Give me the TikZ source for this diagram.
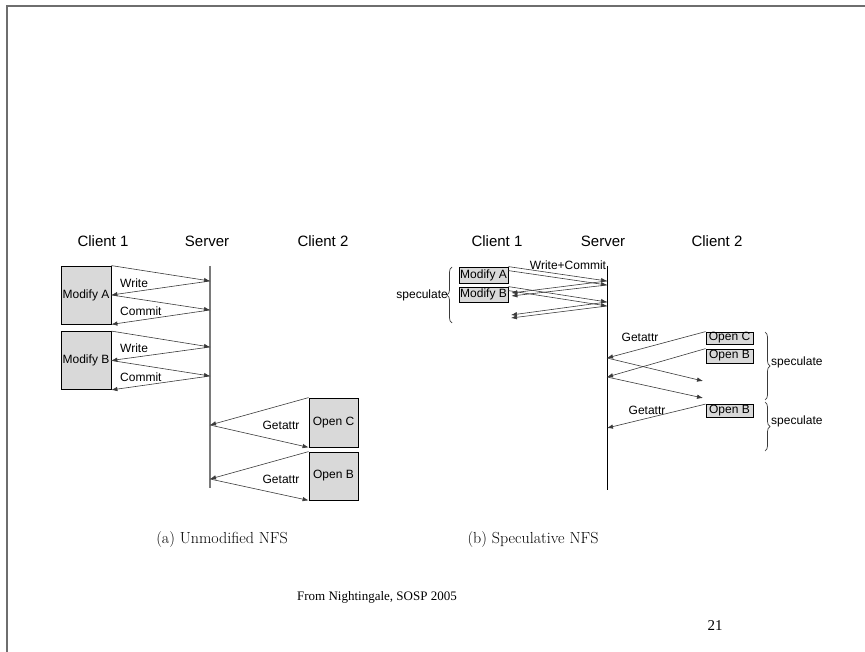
\documentclass[tikz,border=0pt]{standalone}
\usepackage{fontspec}
\usepackage{xcolor}
\usepackage{tikz}
\usetikzlibrary{arrows.meta,decorations.pathreplacing}
\newfontfamily\diagfont{Liberation Sans}
\newfontfamily\notefont{Liberation Serif}
\definecolor{boxgray}{HTML}{D9D9D9}
\definecolor{msggray}{HTML}{3A3A3A}
\definecolor{servergray}{HTML}{7A7A7A}
\definecolor{framegray}{HTML}{6E6E6E}
\tikzset{
  msg/.style={draw=msggray, -{Latex[length=6pt,width=4.5pt]}, line width=0.6pt},
  serverline/.style={draw=servergray, line width=2pt},
  serverthin/.style={draw=black, line width=1pt},
  hdr/.style={font=\diagfont\fontsize{15}{18}\selectfont},
  lbl/.style={font=\diagfont\fontsize{12}{14}\selectfont, inner sep=0pt},
  opbox/.style={draw=black, fill=boxgray, line width=0.8pt, inner sep=0pt,
    font=\diagfont\fontsize{12}{14}\selectfont},
  specbrace/.style={draw=msggray, line width=0.7pt, decorate,
    decoration={brace, amplitude=5pt}},
  subcap/.style={font=\fontsize{16}{19}\selectfont}
}
\begin{document}
\begin{tikzpicture}[x=1pt,y=-1pt]
  \path[use as bounding box] (0,0) rectangle (865,652);
  \draw[framegray, line width=2pt] (865,6.5) -- (7,6.5) -- (7,652);

  \node[hdr] (cl1a) at (103,241) {Client 1};
  \node[hdr] (srva) at (207,241) {Server};
  \node[hdr] (cl2a) at (323,241) {Client 2};
  \coordinate (sa-top) at (210,266);
  \coordinate (sa-bot) at (210,488);
  \draw[serverline] (sa-top) -- (sa-bot);

  \node[opbox, minimum width=50pt, minimum height=58pt] (moda) at (86,295) {Modify A};
  \node[opbox, minimum width=50pt, minimum height=58pt] (modb) at (86,360.5) {Modify B};
  \node[opbox, minimum width=49pt, minimum height=49pt] (openc) at (333.5,422.5) {Open C};
  \node[opbox, minimum width=49pt, minimum height=48pt] (openba) at (333.5,476) {Open B};

  \coordinate (sa1) at (210,281);
  \coordinate (sa2) at (210,310);
  \coordinate (sa3) at (210,347);
  \coordinate (sa4) at (210,376);
  \coordinate (sa5) at (210,425);
  \coordinate (sa6) at (210,479);

  \draw[msg] (moda.north east) -- (sa1);
  \draw[msg] (sa1) -- (moda.east);
  \draw[msg] (moda.east) -- (sa2);
  \draw[msg] (sa2) -- (moda.south east);
  \draw[msg] (modb.north east) -- (sa3);
  \draw[msg] (sa3) -- (modb.east);
  \draw[msg] (modb.east) -- (sa4);
  \draw[msg] (sa4) -- (modb.south east);
  \draw[msg] (openc.north west) -- (sa5);
  \draw[msg] (sa5) -- (openc.south west);
  \draw[msg] (openba.north west) -- (sa6);
  \draw[msg] (sa6) -- (openba.south west);

  \node[lbl, anchor=west] (wra) at (120,283) {Write};
  \node[lbl, anchor=west] (cma) at (120,311) {Commit};
  \node[lbl, anchor=west] (wrb) at (120,348) {Write};
  \node[lbl, anchor=west] (cmb) at (120,377) {Commit};
  \node[lbl] (gta) at (281,425) {Getattr};
  \node[lbl] (gtb) at (281,479) {Getattr};

  \node[hdr] (cl1b) at (497,241) {Client 1};
  \node[hdr] (srvb) at (603,241) {Server};
  \node[hdr] (cl2b) at (717,241) {Client 2};
  \coordinate (sb-top) at (607,266);
  \coordinate (sb-bot) at (607,490);
  \draw[serverthin] (sb-top) -- (sb-bot);

  \node[opbox, minimum width=49pt, minimum height=16pt] (modar) at (483.5,275) {Modify A};
  \node[opbox, minimum width=49pt, minimum height=15pt] (modbr) at (483.5,294.5) {Modify B};
  \node[opbox, minimum width=47pt, minimum height=12pt] (openc2) at (729.5,338) {Open C};
  \node[opbox, minimum width=47pt, minimum height=14pt] (openb2a) at (729.5,356) {Open B};
  \node[opbox, minimum width=47pt, minimum height=13pt] (openb2b) at (729.5,411) {Open B};
  \node[lbl] (wc) at (568,265) {Write+Commit};

  \coordinate (sb1) at (607,281);
  \coordinate (sb2) at (607,285);
  \coordinate (sb3) at (607,302);
  \coordinate (sb4) at (607,306);
  \coordinate (sb5) at (607,358);
  \coordinate (sb6) at (607,377);
  \coordinate (sb7) at (607,428);
  \coordinate (rb1) at (511,315);
  \coordinate (rb2) at (511,318);
  \coordinate (rc1) at (703,381);
  \coordinate (rc2) at (703,398);

  \draw[msg] (modar.north east) -- (sb1);
  \draw[msg] ([yshift=-4pt]modar.north east) -- (sb2);
  \draw[msg] (sb1) -- ([xshift=3pt,yshift=1.5pt]modbr.east);
  \draw[msg] (sb2) -- ([xshift=3pt,yshift=-1.5pt]modbr.east);
  \draw[msg] (modbr.north east) -- (sb3);
  \draw[msg] ([yshift=-4pt]modbr.north east) -- (sb4);
  \draw[msg] (sb3) -- (rb1);
  \draw[msg] (sb4) -- (rb2);
  \draw[msg] (openc2.north west) -- (sb5);
  \draw[msg] (openb2a.north west) -- (sb6);
  \draw[msg] (sb5) -- (rc1);
  \draw[msg] (sb6) -- (rc2);
  \draw[msg] (openb2b.north west) -- (sb7);

  \node[lbl] (gtc) at (640,337) {Getattr};
  \node[lbl] (gtd) at (647,410) {Getattr};

  \draw[specbrace] (452,323) -- (452,267);
  \node[lbl, anchor=east] (spa) at (448,295) {speculate};
  \draw[specbrace] (765,332) -- (765,400);
  \node[lbl, anchor=west] (spb) at (771,362) {speculate};
  \draw[specbrace] (765,402) -- (765,451);
  \node[lbl, anchor=west] (spc) at (771,421) {speculate};

  \node[subcap] (capa) at (222,540) {(a) Unmodified NFS};
  \node[subcap] (capb) at (533,540) {(b) Speculative NFS};
  \node[font=\notefont\fontsize{13}{15}\selectfont] (src) at (377,597) {From Nightingale, SOSP 2005};
  \node[font=\notefont\fontsize{15}{18}\selectfont] (pg) at (715,626) {21};
\end{tikzpicture}
\end{document}
